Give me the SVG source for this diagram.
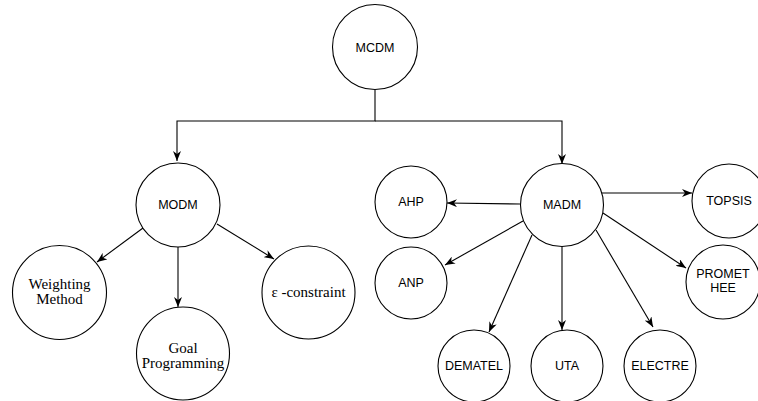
<svg xmlns="http://www.w3.org/2000/svg" width="758" height="401" viewBox="0 0 758 401">
<defs>
<marker id="arr" viewBox="0 0 10 8" refX="10" refY="4" markerWidth="10" markerHeight="8" orient="auto" markerUnits="userSpaceOnUse">
<path d="M0,0 L10,4 L0,8 L3,4 Z" fill="#000"/>
</marker>
</defs>
<style>
.n{fill:#fff;stroke:#000;stroke-width:1.1}
.s{font-family:"Liberation Sans",Arial,sans-serif;font-size:12.5px;fill:#000;text-anchor:middle}
.t{font-family:"Liberation Serif","Times New Roman",serif;font-size:15px;fill:#000;text-anchor:middle}
.c{fill:none;stroke:#000;stroke-width:1.1}
</style>
<g id="connectors">
<polyline class="c" points="375,90 375,121 177,121 177,161" marker-end="url(#arr)"/>
<polyline class="c" points="375,121 562,121 562,164" marker-end="url(#arr)"/>
<line class="c" x1="143" y1="228" x2="97" y2="262" marker-end="url(#arr)"/>
<line class="c" x1="178" y1="247" x2="178" y2="307" marker-end="url(#arr)"/>
<line class="c" x1="217" y1="224" x2="274" y2="259" marker-end="url(#arr)"/>
<line class="c" x1="520" y1="204" x2="447" y2="203" marker-end="url(#arr)"/>
<line class="c" x1="602" y1="193" x2="692" y2="193" marker-end="url(#arr)"/>
<line class="c" x1="523" y1="221" x2="445" y2="265" marker-end="url(#arr)"/>
<line class="c" x1="532" y1="235" x2="489" y2="332" marker-end="url(#arr)"/>
<line class="c" x1="562" y1="246" x2="562" y2="330" marker-end="url(#arr)"/>
<line class="c" x1="596" y1="230" x2="653" y2="327" marker-end="url(#arr)"/>
<line class="c" x1="603" y1="213" x2="686" y2="268" marker-end="url(#arr)"/>
</g>
<g id="MCDM"><circle class="n" cx="375" cy="47" r="42.5"/><text class="s" x="375" y="52">MCDM</text></g>
<g id="MODM"><circle class="n" cx="178" cy="205" r="42"/><text class="s" x="178" y="209">MODM</text></g>
<g id="MADM"><circle class="n" cx="562" cy="205" r="41.5"/><text class="s" x="562" y="209">MADM</text></g>
<g id="Weighting"><circle class="n" cx="59.5" cy="292.5" r="47"/><text class="t" x="59.5" y="289">Weighting</text><text class="t" x="59.5" y="304">Method</text></g>
<g id="Goal"><circle class="n" cx="183" cy="353.5" r="46.5"/><text class="t" x="183" y="353">Goal</text><text class="t" x="183" y="368">Programming</text></g>
<g id="Epsilon"><circle class="n" cx="308.5" cy="292.5" r="46.5"/><text class="t" x="308.5" y="297">ε -constraint</text></g>
<g id="AHP"><circle class="n" cx="411" cy="202" r="36"/><text class="s" x="411" y="206">AHP</text></g>
<g id="ANP"><circle class="n" cx="411" cy="283" r="36"/><text class="s" x="411" y="287">ANP</text></g>
<g id="DEMATEL"><circle class="n" cx="474" cy="366" r="36"/><text class="s" x="474" y="370">DEMATEL</text></g>
<g id="UTA"><circle class="n" cx="567" cy="366" r="36"/><text class="s" x="567" y="370">UTA</text></g>
<g id="ELECTRE"><circle class="n" cx="660" cy="366" r="36"/><text class="s" x="660" y="370">ELECTRE</text></g>
<g id="TOPSIS"><circle class="n" cx="729" cy="201" r="37"/><text class="s" x="729" y="205">TOPSIS</text></g>
<g id="PROMETHEE"><circle class="n" cx="723" cy="282" r="37"/><text class="s" x="723" y="278">PROMET</text><text class="s" x="723" y="292">HEE</text></g>
</svg>
